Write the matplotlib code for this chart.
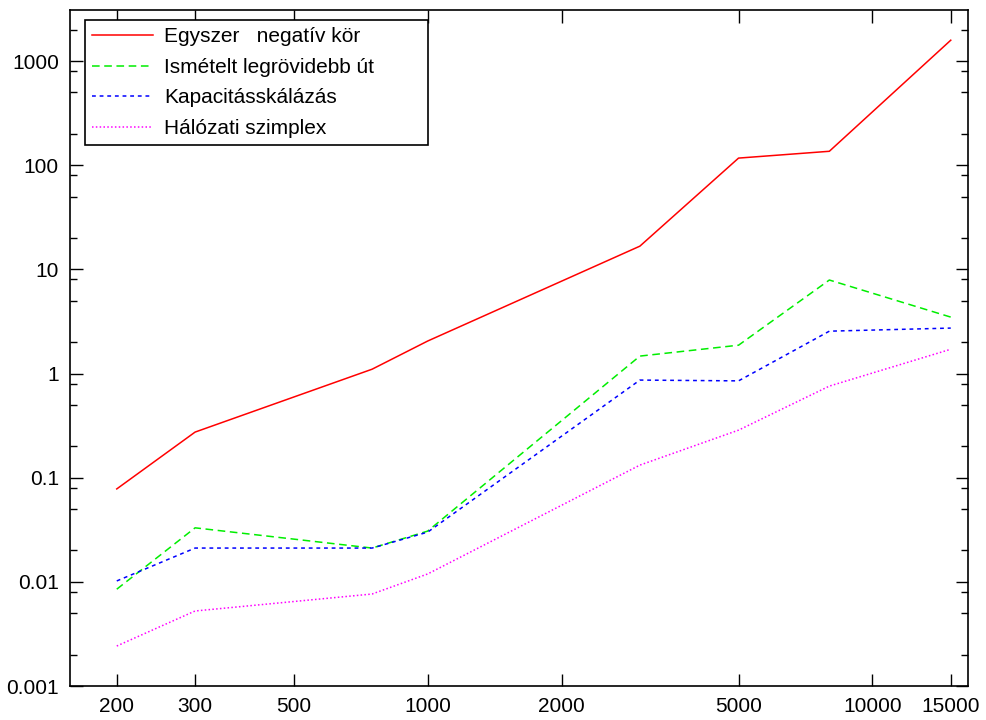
import numpy as np
import matplotlib
matplotlib.use("Agg")
import matplotlib.pyplot as plt
from matplotlib.ticker import FixedLocator, NullFormatter, NullLocator

plt.rcParams['font.family'] = ['Liberation Sans', 'DejaVu Sans']

n = [200, 300, 750, 1000, 3000, 5000, 8000, 15000]
egyszer = [0.078, 0.274, 1.10, 2.05, 16.7, 117, 136, 1585]
ismetelt = [0.0085, 0.033, 0.0211, 0.0307, 1.47, 1.87, 7.9, 3.48]
kapacitas = [0.0102, 0.0211, 0.0211, 0.030, 0.865, 0.85, 2.55, 2.73]
halozati = [0.00242, 0.00525, 0.00764, 0.0119, 0.132, 0.286, 0.757, 1.71]

labels = ["Egyszer   negatív kör", "Ismételt legrövidebb út",
          "Kapacitásskálázás", "Hálózati szimplex"]
xticks = [200, 300, 500, 1000, 2000, 5000, 10000, 15000]
yticks = [0.001, 0.01, 0.1, 1, 10, 100, 1000]
ytick_labels = ["0.001", "0.01", "0.1", "1", "10", "100", "1000"]

fig = plt.figure(figsize=(9.87, 7.2), dpi=100)
ax = fig.add_axes([70 / 987, 34 / 720, 898 / 987, 676 / 720])

ax.plot(n, egyszer, color='#ff0000', lw=1.1, label=labels[0])
ax.plot(n, ismetelt, color='#00ee00', lw=1.1, dashes=(5, 3), label=labels[1])
ax.plot(n, kapacitas, color='#0000ff', lw=1.1, dashes=(2.5, 2.5), label=labels[2])
ax.plot(n, halozati, color='#ff00ff', lw=1.1, dashes=(1, 1.5), label=labels[3])

ax.set_xscale('log')
ax.set_yscale('log')
ax.set_xlim(157, 16400)
ax.set_ylim(0.001, 3090)

ax.xaxis.set_major_locator(FixedLocator(xticks))
ax.set_xticklabels([str(v) for v in xticks])
ax.xaxis.set_minor_locator(NullLocator())
ax.yaxis.set_major_locator(FixedLocator(yticks))
ax.set_yticklabels(ytick_labels)
minors = [m * 10.0 ** k for k in range(-3, 4) for m in (2, 5, 8)]
ax.yaxis.set_minor_locator(FixedLocator(minors))
ax.yaxis.set_minor_formatter(NullFormatter())

ax.tick_params(which='both', direction='in', top=True, right=True,
               labelsize=15, color='black', width=1)
ax.tick_params(axis='x', which='major', length=9, pad=8)
ax.tick_params(axis='y', which='major', length=9, pad=8)
ax.tick_params(which='minor', length=5)
for s in ax.spines.values():
    s.set_linewidth(1.2)

leg = ax.legend(loc='upper left', bbox_to_anchor=(0.0167, 0.552, 0.382, 0.433),
                mode='expand', fontsize=15, frameon=True, fancybox=False,
                edgecolor='black', framealpha=1, handlelength=2.9,
                handletextpad=0.55, borderaxespad=0, labelspacing=0.55,
                borderpad=0.35)
leg.get_frame().set_linewidth(1.2)

fig.savefig("out.png", dpi=100)
